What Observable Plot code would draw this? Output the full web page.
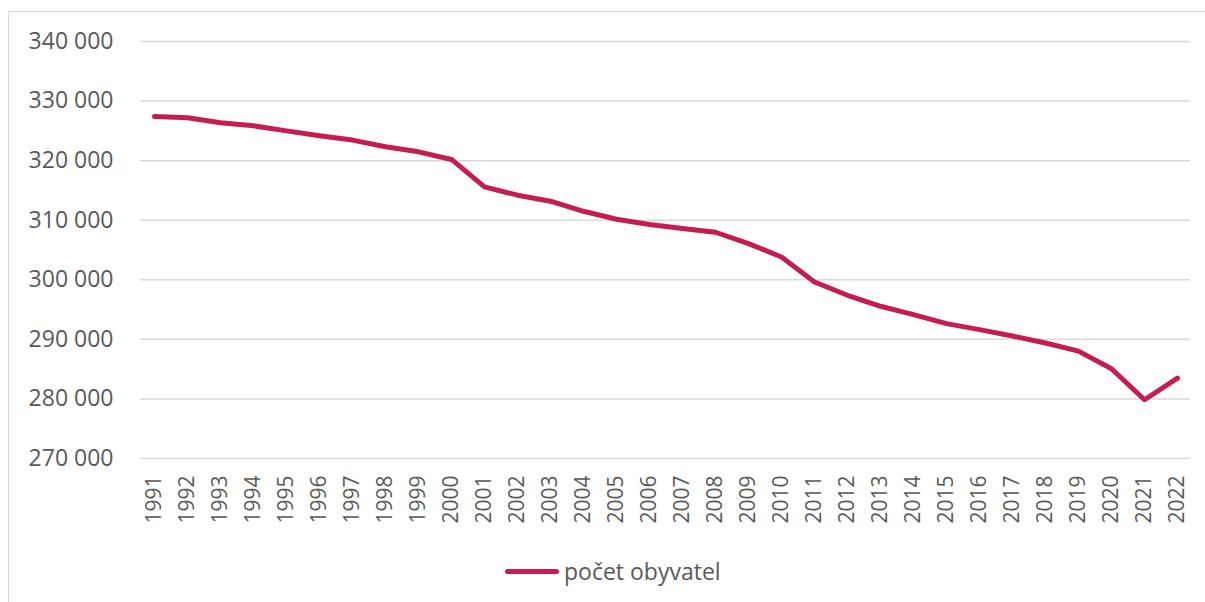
<!DOCTYPE html>
<html>
<head>
<meta charset="utf-8">
<script src="https://cdn.jsdelivr.net/npm/d3@7"></script>
<script src="https://cdn.jsdelivr.net/npm/@observablehq/plot@0.6"></script>
<style>
  html, body { margin: 0; padding: 0; background: #fff; }
  #wrap { position: relative; width: 1205px; height: 602px; overflow: hidden; font-family: "Open Sans", sans-serif; }
  #frame { position: absolute; left: 8px; top: 11px; width: 1300px; height: 700px; border-top: 1.5px solid #d9d9d9; border-left: 1.5px solid #d9d9d9; }
  #chart { position: absolute; left: 0; top: 0; }
  #legend { position: absolute; left: 505px; top: 555px; display: flex; align-items: center; color: #595959; font-size: 23px; }
  #legend .sw { width: 54px; height: 5px; border-radius: 3px; background: #c41e50; margin-right: 5px; }
</style>
</head>
<body>
<div id="wrap">
  <div id="frame"></div>
  <div id="chart"></div>
  <div id="legend"><span class="sw"></span><span>počet obyvatel</span></div>
</div>
<script>
const years = ["1991","1992","1993","1994","1995","1996","1997","1998","1999","2000","2001","2002","2003","2004","2005","2006","2007","2008","2009","2010","2011","2012","2013","2014","2015","2016","2017","2018","2019","2020","2021","2022"];
const population = [327400,327200,326350,325850,325000,324170,323450,322320,321480,320200,315600,314200,313190,311500,310170,309280,308600,307980,306080,303830,299630,297400,295550,294150,292640,291630,290560,289380,288030,285070,279860,283500];
const yTicks = [270000,280000,290000,300000,310000,320000,330000,340000];
const seriesName = "počet obyvatel";

const data = years.map((y, i) => ({year: y, value: population[i]}));
const fmt = v => d3.format(",")(v).replace(/,/g, " ");

const chart = Plot.plot({
  width: 1205,
  height: 545,
  marginLeft: 140,
  marginRight: 15,
  marginTop: 41,
  marginBottom: 87,
  style: {fontFamily: "Open Sans, sans-serif", fontSize: "21px", color: "#595959", background: "transparent"},
  x: {type: "point", domain: years, padding: 0.3, label: null},
  y: {domain: [270000, 340000], label: null},
  marks: [
    Plot.gridY(yTicks, {stroke: "#d9d9d9", strokeOpacity: 1, strokeWidth: 1.5}),
    Plot.axisY(yTicks, {tickSize: 0, tickPadding: 27, tickFormat: fmt, fontSize: 23, label: null}),
    Plot.axisX({tickSize: 0, tickPadding: 17, tickRotate: -90, fontSize: 21, label: null}),
    Plot.line(data, {x: "year", y: "value", stroke: "#c41e50", strokeWidth: 5, strokeLinecap: "round", strokeLinejoin: "round"})
  ]
});
document.getElementById("chart").appendChild(chart);
</script>
</body>
</html>
